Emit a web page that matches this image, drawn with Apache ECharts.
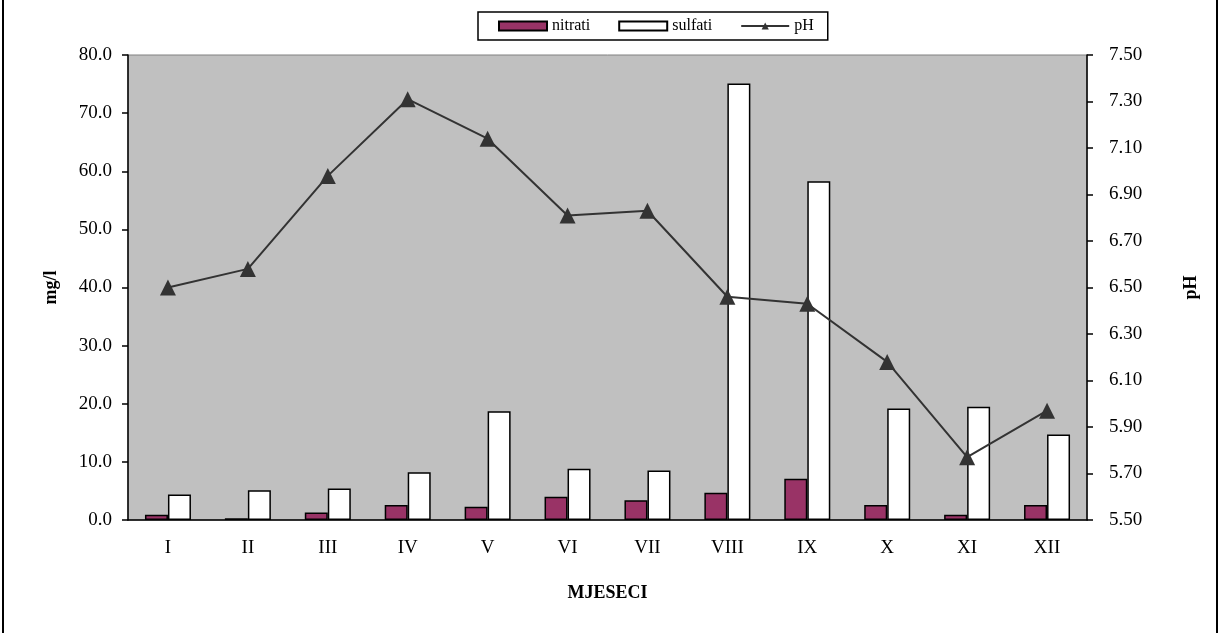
<!DOCTYPE html>
<html>
<head>
<meta charset="utf-8">
<script src="https://cdn.jsdelivr.net/npm/echarts@6/dist/echarts.min.js"></script>
<style>
  html, body { margin: 0; padding: 0; background: #fff; }
  #chart { width: 1220px; height: 633px; }
</style>
</head>
<body>
<div id="chart"></div>
<script>
// Monthly nitrate / sulfate concentrations (mg/l) and pH
const months = ['I', 'II', 'III', 'IV', 'V', 'VI', 'VII', 'VIII', 'IX', 'X', 'XI', 'XII'];
const nitrati = [0.9, 0.3, 1.3, 2.6, 2.3, 4.0, 3.4, 4.7, 7.1, 2.6, 0.9, 2.6];
const sulfati = [4.4, 5.1, 5.4, 8.2, 18.7, 8.8, 8.5, 75.1, 58.3, 19.2, 19.5, 14.7];
const pH = [6.50, 6.58, 6.98, 7.31, 7.14, 6.81, 6.83, 6.46, 6.43, 6.18, 5.77, 5.97];
// Right-hand pH scale labels, bottom to top
const phTicks = ['5.50', '5.70', '5.90', '6.10', '6.30', '6.50', '6.70', '6.90', '7.10', '7.30', '7.50'];

const FONT = '"Liberation Serif", "Times New Roman", serif';
const chart = echarts.init(document.getElementById('chart'));

chart.setOption({
  animation: false,
  textStyle: { fontFamily: FONT, color: '#000' },
  legend: {
    left: 478, top: 12,
    padding: [6, 14, 6, 20],
    borderColor: '#000', borderWidth: 1.5,
    itemWidth: 48, itemHeight: 9, itemGap: 28,
    textStyle: { fontFamily: FONT, fontSize: 16, color: '#000' },
    data: [
      { name: 'nitrati', icon: 'rect' },
      { name: 'sulfati', icon: 'rect' },
      { name: 'pH' }
    ]
  },
  grid: {
    left: 128, right: 133, top: 55, bottom: 113,
    show: true, backgroundColor: '#c0c0c0', borderColor: '#808080', borderWidth: 1
  },
  xAxis: {
    type: 'category',
    data: months,
    name: 'MJESECI', nameLocation: 'middle', nameGap: 64,
    nameTextStyle: { fontFamily: FONT, fontSize: 18, fontWeight: 'bold', color: '#000' },
    axisLine: { lineStyle: { color: '#000', width: 1.5 } },
    axisTick: { length: 7, lineStyle: { color: '#000', width: 1.5 } },
    axisLabel: { fontFamily: FONT, fontSize: 19, color: '#000', margin: 19 },
    splitLine: { show: false }
  },
  yAxis: [
    {
      type: 'value', min: 0, max: 80, interval: 10,
      name: 'mg/l', nameLocation: 'middle', nameGap: 68, nameRotate: 90,
      nameTextStyle: { fontFamily: FONT, fontSize: 18, fontWeight: 'bold', color: '#000' },
      axisLine: { show: true, lineStyle: { color: '#000', width: 1.5 } },
      axisTick: { show: true, length: 6, lineStyle: { color: '#000', width: 1.5 } },
      axisLabel: { fontFamily: FONT, fontSize: 19, color: '#000', margin: 16,
        formatter: v => v.toFixed(1) },
      splitLine: { show: false }
    },
    {
      // pH value scale (drawn by the axis below)
      type: 'value', min: 5.5, max: 7.5, show: false, position: 'right',
      splitLine: { show: false }
    },
    {
      type: 'category', data: phTicks, boundaryGap: false, position: 'right',
      name: 'pH', nameLocation: 'middle', nameGap: 95, nameRotate: 90,
      nameTextStyle: { fontFamily: FONT, fontSize: 18, fontWeight: 'bold', color: '#000' },
      axisLine: { show: true, lineStyle: { color: '#000', width: 1.5 } },
      axisTick: { show: true, length: 6, lineStyle: { color: '#000', width: 1.5 } },
      axisLabel: { fontFamily: FONT, fontSize: 19, color: '#000', margin: 22 },
      splitLine: { show: false }
    }
  ],
  series: [
    {
      name: 'nitrati', type: 'bar', yAxisIndex: 0, data: nitrati,
      barWidth: 23, barGap: '0%',
      itemStyle: { color: '#993366', borderColor: '#000', borderWidth: 1.5 }
    },
    {
      name: 'sulfati', type: 'bar', yAxisIndex: 0, data: sulfati,
      barWidth: 23, barGap: '0%',
      itemStyle: { color: '#ffffff', borderColor: '#000', borderWidth: 1.5 }
    },
    {
      name: 'pH', type: 'line', yAxisIndex: 1, data: pH,
      symbol: 'triangle', symbolSize: 16,
      lineStyle: { color: '#333333', width: 2 },
      itemStyle: { color: '#333333' }
    }
  ],
  graphic: [
    { type: 'line', shape: { x1: 3, y1: 0, x2: 3, y2: 633 }, style: { stroke: '#000', lineWidth: 2 } },
    { type: 'line', shape: { x1: 1217, y1: 0, x2: 1217, y2: 633 }, style: { stroke: '#000', lineWidth: 2 } }
  ]
});
</script>
</body>
</html>
